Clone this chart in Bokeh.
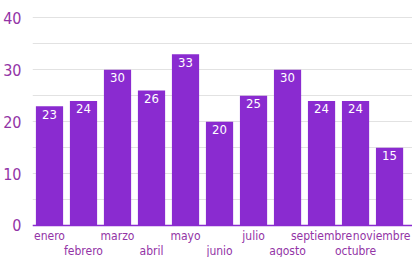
from bokeh.plotting import figure
from bokeh.models import ColumnDataSource, FixedTicker, Range1d, Span
from bokeh.core.properties import value
from bokeh.embed import file_html
from bokeh.resources import INLINE

months = ["enero", "febrero", "marzo", "abril", "mayo", "junio", "julio",
          "agosto", "septiembre", "octubre", "noviembre"]
values = [23, 24, 30, 26, 33, 20, 25, 30, 24, 24, 15]
y_ticks = [0, 10, 20, 30, 40]
y_minor = [5, 15, 25, 35]

FONT = "DejaVu Sans Condensed"
BAR = "#8a2bd0"
TXT = "#9334a6"

n = len(months)
x_end = n + 0.175
xs = [i + 0.5 for i in range(n)]
row_y = [-2.1 if i % 2 == 0 else -5.0 for i in range(n)]
# keep the last (wide) label inside the chart: right-align it near the edge
lx = xs[:-1] + [x_end - 0.06]
la = ["center"] * (n - 1) + ["right"]
src = ColumnDataSource(dict(x=xs, v=values, t=[str(x) for x in values],
                            m=months, ly=row_y, lx=lx, la=la))

p = figure(x_range=Range1d(0, x_end), y_range=Range1d(-6.17, 41.06),
           width=412, height=257, output_backend="svg", toolbar_location=None,
           min_border_left=27, min_border_right=0, min_border_top=12, min_border_bottom=0)
p.outline_line_color = None
p.xaxis.visible = False
p.vbar(x="x", top="v", width=0.8, source=src, color=BAR, line_color=None)
p.text(x="x", y="v", text="t", source=src, y_offset=8,
       text_align="center", text_baseline="middle",
       text_color="white", text_font_size="13px", text_font=value(FONT))
p.text(x="lx", y="ly", text="m", source=src,
       text_align="la", text_baseline="middle",
       text_color=TXT, text_font_size="12px", text_font=value(FONT))
p.add_layout(Span(location=0, dimension="width", line_color=BAR, line_width=1.5))

p.xgrid.grid_line_color = None
p.ygrid.grid_line_color = "#e2e2e2"
p.ygrid.minor_grid_line_color = "#e2e2e2"

ya = p.yaxis[0]
ya.ticker = FixedTicker(ticks=y_ticks, minor_ticks=y_minor)
ya.axis_line_color = None
ya.major_tick_line_color = None
ya.minor_tick_line_color = None
ya.major_label_text_font = FONT
ya.major_label_text_font_size = "16px"
ya.major_label_text_color = TXT
ya.major_label_standoff = 5

open("out.html", "w").write(file_html(p, INLINE))
